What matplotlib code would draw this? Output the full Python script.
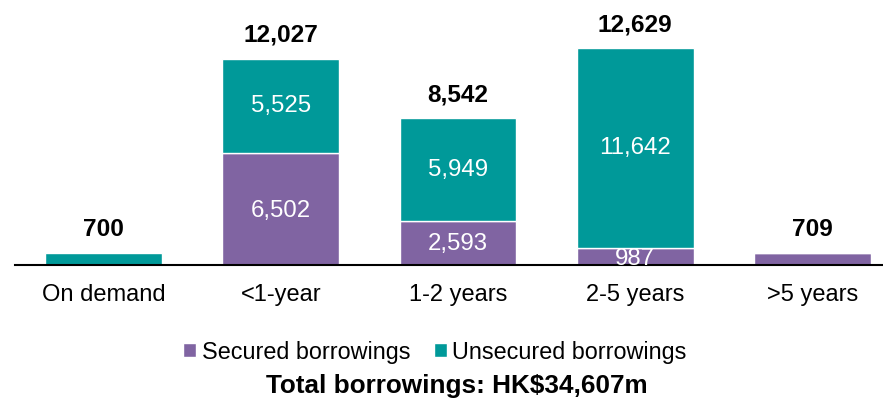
import matplotlib
matplotlib.use("Agg")
import matplotlib.pyplot as plt
import numpy as np

plt.rcParams['font.family'] = ['Liberation Sans', 'DejaVu Sans']

categories = ["On demand", "<1-year", "1-2 years", "2-5 years", ">5 years"]
secured = [0, 6502, 2593, 987, 709]
unsecured = [700, 5525, 5949, 11642, 0]
totals = [700, 12027, 8542, 12629, 709]
title_text = "Total borrowings: HK$34,607m"

purple = "#8064a2"
teal = "#009999"

W, H = 883, 399
fig = plt.figure(figsize=(W / 100, H / 100), dpi=100)
# axes spans slightly past the right figure edge so the baseline runs to the border
ax = fig.add_axes([15 / W, (H - 265) / H, 886 / W, 265 / H])

x = np.arange(len(categories))
width = 0.66
ax.bar(x, secured, width, color=purple, edgecolor="white", linewidth=1, label="Secured borrowings")
ax.bar(x, unsecured, width, bottom=secured, color=teal, edgecolor="white", linewidth=1,
       label="Unsecured borrowings")

fs = 17.3
for i in range(len(categories)):
    if secured[i] and unsecured[i]:
        ax.annotate(f"{secured[i]:,}", (x[i], secured[i] / 2), xytext=(0, -1 if secured[i] > 2000 else -2),
                    textcoords="offset points", ha="center", va="center",
                    color="white", fontsize=fs)
        ax.text(x[i], secured[i] + unsecured[i] / 2, f"{unsecured[i]:,}", ha="center",
                va="center", color="white", fontsize=fs)
    ax.annotate(f"{totals[i]:,}", (x[i], totals[i]), xytext=(0, 12.3),
                textcoords="offset points", ha="center", va="baseline",
                fontsize=fs + 0.3, fontweight="bold", color="black")

ax.set_xlim(-0.5, 4.5)
ax.set_ylim(0, 15450)
ax.set_xticks(x)
ax.set_xticklabels(categories, fontsize=17)
ax.tick_params(axis="x", length=0, pad=14)
ax.set_yticks([])
for s in ["top", "right", "left"]:
    ax.spines[s].set_visible(False)
ax.spines["bottom"].set_linewidth(1.5)

handles, labels = ax.get_legend_handles_labels()
fig.legend(handles, labels, loc="center", bbox_to_anchor=(435 / W, 1 - 352 / H),
           ncol=2, frameon=False, fontsize=16.8, handlelength=0.55, handleheight=0.55,
           handletextpad=0.25, columnspacing=1.0)
fig.text(457 / W, 1 - 386 / H, title_text, ha="center", va="center",
         fontsize=18.8, fontweight="bold")

fig.savefig("out.png", dpi=100)
